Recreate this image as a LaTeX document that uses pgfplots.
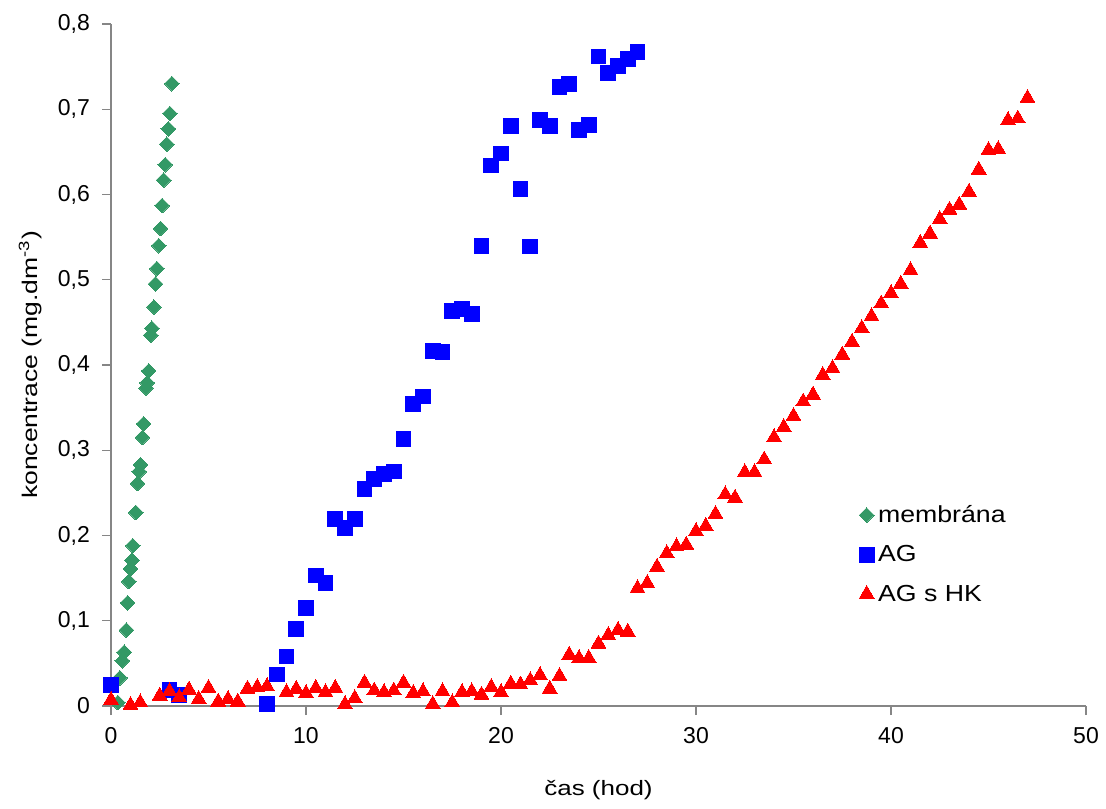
\documentclass[border=0pt]{standalone}
\usepackage{fontspec}
\setmainfont{Liberation Sans}
\newfontfamily\widefont[FakeStretch=1.25]{Liberation Sans}
\newfontfamily\semiwide[FakeStretch=1.15]{Liberation Sans}
\usepackage{pgfplots}
\pgfplotsset{compat=1.18}
\definecolor{memb}{RGB}{51,153,102}
\definecolor{axgray}{RGB}{134,134,134}
\begin{document}
\fontsize{11.5}{13.8}\selectfont
\begin{tikzpicture}
\begin{axis}[
  scale only axis, width=487.5pt, height=341pt,
  xmin=0, xmax=50, ymin=0, ymax=0.8,
  axis x line*=bottom, axis y line*=left,
  axis line style={axgray, line width=0.7pt, -},
  tick style={axgray, line width=0.7pt},
  tick align=outside, major tick length=4.5pt,
  xtick={0,10,20,30,40,50},
  ytick={0,0.1,0.2,0.3,0.4,0.5,0.6,0.7,0.8},
  yticklabels={0,{0,1},{0,2},{0,3},{0,4},{0,5},{0,6},{0,7},{0,8}},
  /pgf/number format/assume math mode=true,
  tick label style={font=\fontsize{11.5}{13.8}\selectfont, black},
  xticklabel style={yshift=-2pt},
  yticklabel style={xshift=-2pt},
  xlabel={čas (hod)},
  ylabel={koncentrace (mg.dm\textsuperscript{-3})},
  xlabel style={at={(axis description cs:0.5,-0.124)}, anchor=center, font=\widefont\fontsize{10.4}{12.5}\selectfont},
  ylabel style={at={(axis description cs:-0.083,0.5)}, anchor=center, font=\widefont\fontsize{10.6}{12.7}\selectfont},
  clip=false,
  legend style={draw=none, fill=none, at={(axis description cs:0.767,0.3025)}, anchor=north west,
    inner sep=0pt, row sep=4.75pt, font=\semiwide\fontsize{11.6}{14}\selectfont,
    nodes={inner sep=2pt, text height=9pt, text depth=2pt}},
  legend cell align=left,
  legend image code/.code={\draw[mark repeat=2,mark phase=2,#1] plot coordinates {(0pt,0pt) (3.5pt,0pt) (7pt,0pt)};},
]
\addplot[only marks, mark=square*, mark size=2.6pt, mark options={rotate=45, fill=memb, draw=memb, line width=0pt}] coordinates {
(0.35,0.004) (0.45,0.033) (0.58,0.053) (0.68,0.063) (0.79,0.089) (0.85,0.121)
(0.91,0.146) (1.00,0.161) (1.08,0.171) (1.12,0.188) (1.27,0.227) (1.36,0.261)
(1.44,0.275) (1.51,0.283) (1.61,0.315) (1.67,0.331) (1.80,0.373) (1.85,0.379)
(1.93,0.393) (2.04,0.435) (2.10,0.443) (2.20,0.468) (2.28,0.495) (2.35,0.513)
(2.45,0.540) (2.54,0.560) (2.62,0.587) (2.70,0.617) (2.78,0.635) (2.86,0.659)
(2.94,0.677) (3.02,0.695) (3.12,0.730)
};
\addlegendentry{membrána}
\addplot[only marks, mark=square*, mark size=3.7pt, mark options={fill=blue, draw=blue, line width=0pt}] coordinates {
(0,0.025) (3,0.019) (3.5,0.013) (8,0.002) (8.5,0.037) (9,0.058) (9.5,0.090)
(10,0.115) (10.5,0.153) (11,0.144) (11.5,0.219) (12,0.209) (12.5,0.219)
(13,0.255) (13.5,0.266) (14,0.272) (14.5,0.275) (15,0.313) (15.5,0.354)
(16,0.363) (16.5,0.416) (17,0.415) (17.5,0.463) (18,0.466) (18.5,0.460)
(19,0.540) (19.5,0.634) (20,0.648) (20.5,0.680) (21,0.606) (21.5,0.539)
(22,0.687) (22.5,0.680) (23,0.726) (23.5,0.730) (24,0.676) (24.5,0.682)
(25,0.762) (25.5,0.743) (26,0.751) (26.5,0.759) (27,0.767)
};
\addlegendentry{AG}
\addplot[only marks, mark=triangle*, mark size=4.3pt, mark options={fill=red, draw=red, line width=0pt}] coordinates {
(0,0.007) (1,0.001) (1.5,0.004) (2.5,0.012) (3,0.017) (3.5,0.010) (4,0.019)
(4.5,0.008) (5,0.021) (5.5,0.005) (6,0.008) (6.5,0.005) (7,0.020) (7.5,0.022)
(8,0.023) (9,0.016) (9.5,0.020) (10,0.015) (10.5,0.021) (11,0.016) (11.5,0.021)
(12,0.002) (12.5,0.009) (13,0.027) (13.5,0.018) (14,0.016) (14.5,0.018)
(15,0.027) (15.5,0.015) (16,0.017) (16.5,0.002) (17,0.017) (17.5,0.004)
(18,0.016) (18.5,0.017) (19,0.013) (19.5,0.022) (20,0.016) (20.5,0.026)
(21,0.025) (21.5,0.030) (22,0.036) (22.5,0.020) (23,0.035) (23.5,0.060)
(24,0.056) (24.5,0.056) (25,0.073) (25.5,0.083) (26,0.089) (26.5,0.087)
(27,0.138) (27.5,0.144) (28,0.163) (28.5,0.179) (29,0.187) (29.5,0.189)
(30,0.205) (30.5,0.211) (31,0.225) (31.5,0.248) (32,0.244) (32.5,0.274)
(33,0.274) (33.5,0.289) (34,0.315) (34.5,0.327) (35,0.340) (35.5,0.357)
(36,0.365) (36.5,0.388) (37,0.396) (37.5,0.412) (38,0.427) (38.5,0.443)
(39,0.457) (39.5,0.472) (40,0.484) (40.5,0.495) (41,0.511) (41.5,0.543)
(42,0.554) (42.5,0.571) (43,0.582) (43.5,0.588) (44,0.603) (44.5,0.629)
(45,0.652) (45.5,0.653) (46,0.687) (46.5,0.689) (47,0.713)
};
\addlegendentry{AG s HK}
\end{axis}
\pgfresetboundingbox
\path[use as bounding box] (-55.5pt,-51pt) rectangle (497.5pt,353pt);
\end{tikzpicture}
\end{document}
